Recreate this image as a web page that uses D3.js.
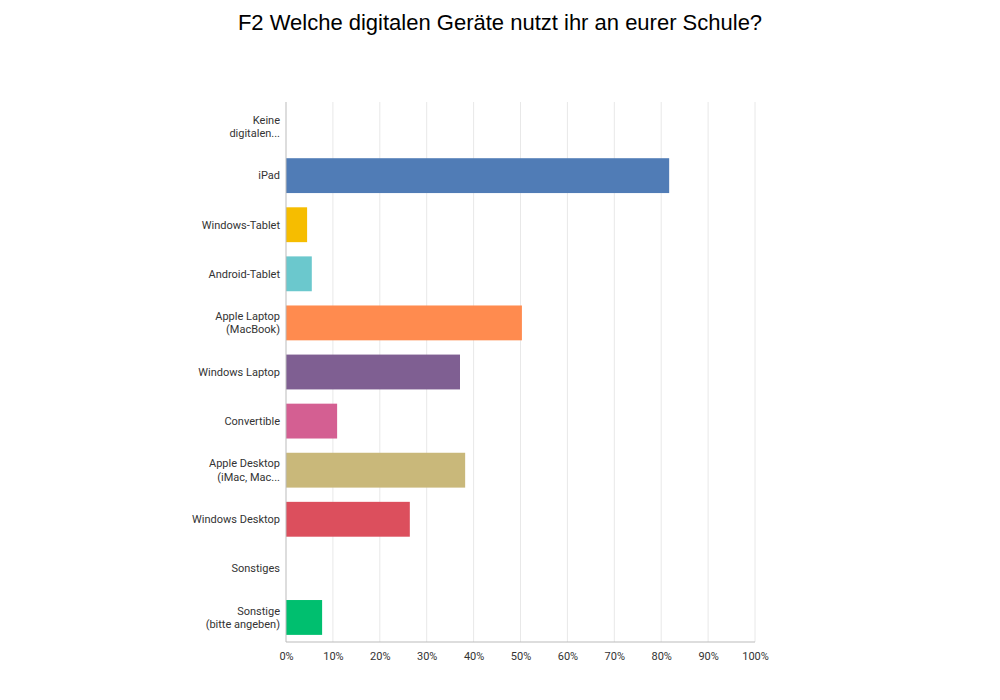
<!DOCTYPE html>
<html><head><meta charset="utf-8">
<script src="https://cdn.jsdelivr.net/npm/d3@7"></script>
<style>body{margin:0;background:#fff}</style></head>
<body><svg id="c" width="1000" height="700"></svg>
<script>
const categories=[["Keine","digitalen..."],["iPad"],["Windows-Tablet"],["Android-Tablet"],["Apple Laptop","(MacBook)"],["Windows Laptop"],["Convertible"],["Apple Desktop","(iMac, Mac..."],["Windows Desktop"],["Sonstiges"],["Sonstige","(bitte angeben)"]];
const values=[0,81.7,4.5,5.5,50.3,37.1,10.9,38.2,26.4,0,7.7];
const colors=["#6c6c6c","#507cb6","#f6bd00","#6bc8cd","#ff8b4f","#7f5f92","#d45f92","#c9b87a","#dc4f5d","#999999","#00bf6f"];
const ticks=[0,10,20,30,40,50,60,70,80,90,100];
const svg=d3.select("#c");
const m={l:286,r:755,t:102,b:642};
const x=d3.scaleLinear().domain([0,100]).range([m.l,m.r]);
const y=d3.scaleBand().domain(d3.range(categories.length)).range([m.t,m.b]).paddingInner(0.29).paddingOuter(0.145);
svg.append("text").attr("x",500).attr("y",30).attr("text-anchor","middle").attr("font-family","Liberation Sans, Arial").attr("font-size",22).text("F2 Welche digitalen Geräte nutzt ihr an eurer Schule?");
svg.append("g").selectAll("line").data(ticks.slice(1)).join("line").attr("x1",d=>x(d)).attr("x2",d=>x(d)).attr("y1",m.t).attr("y2",m.b).attr("stroke","#e8e8e8");
svg.append("g").selectAll("rect").data(values).join("rect").attr("x",x(0)).attr("y",(d,i)=>y(i)).attr("height",y.bandwidth()).attr("width",d=>x(d)-x(0)).attr("fill",(d,i)=>colors[i]);
svg.append("line").attr("x1",m.l).attr("x2",m.l).attr("y1",m.t).attr("y2",m.b).attr("stroke","#bbb");
svg.append("line").attr("x1",m.l).attr("x2",m.r).attr("y1",m.b).attr("y2",m.b).attr("stroke","#bbb");
const xa=svg.append("g").attr("transform",`translate(0,${m.b})`).call(d3.axisBottom(x).tickValues(ticks).tickFormat(d=>d+"%").tickSize(0).tickPadding(10));
xa.select(".domain").remove();
xa.selectAll("text").attr("font-family","Roboto, sans-serif").attr("font-size",11).attr("fill","#333");
const lab=svg.append("g").selectAll("text").data(categories).join("text").attr("text-anchor","end").attr("font-family","Roboto, sans-serif").attr("font-size",11).attr("fill","#333").attr("x",m.l-6).attr("y",(d,i)=>y(i)+y.bandwidth()/2);
lab.each(function(d){const t=d3.select(this);d.forEach((s,j)=>t.append("tspan").attr("x",m.l-6).attr("dy",j===0?(d.length===1?"0.35em":"-0.25em"):"1.2em").text(s));});
</script></body></html>
